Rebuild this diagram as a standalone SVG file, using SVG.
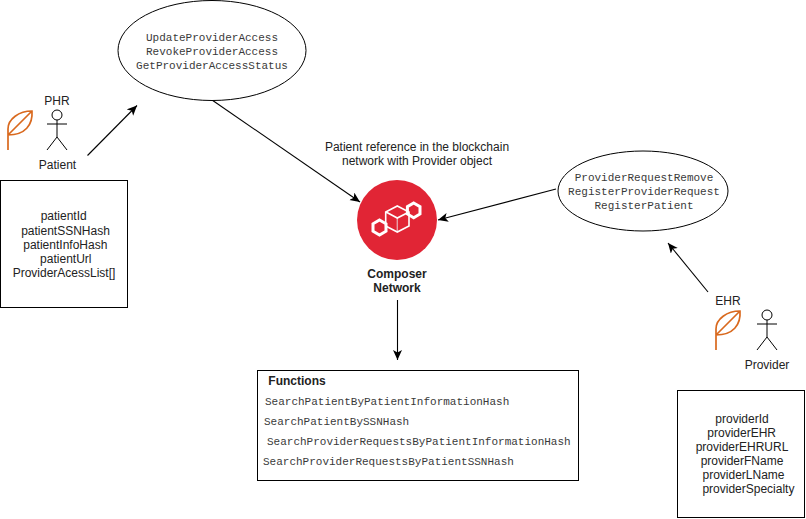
<svg xmlns="http://www.w3.org/2000/svg" width="806" height="519" viewBox="0 0 806 519">
<style>
.s{font-family:"Liberation Sans",Arial,sans-serif;font-size:12px;fill:#222;text-anchor:middle}
.b{font-weight:bold}
.m{font-family:"Liberation Mono","DejaVu Sans Mono",monospace;font-size:11px;fill:#3a3a3a}
.c{text-anchor:middle}
.box{fill:#fff;stroke:#000;stroke-width:1}
.line{fill:none;stroke:#000;stroke-width:1.1}
.actor{fill:none;stroke:#000;stroke-width:1}
.leaf{fill:none;stroke:#d9691e;stroke-width:1.7}
.hex{fill:none;stroke:#fff;stroke-width:3}
</style>
<defs>
<marker id="a" markerUnits="userSpaceOnUse" markerWidth="11" markerHeight="10" refX="10" refY="4.5" orient="auto"><path d="M0 0L10 4.500L0 9L2.500 4.500Z" fill="#000"/></marker>
<g id="leaf"><path class="leaf" d="M0 39V18C0 8 11 0 24 0C25 14 17 24 0 24M0 24L24 0"/></g>
<g id="act"><circle class="actor" cx="0" cy="5" r="5"/><path class="actor" d="M0 10V27M-10 14H10M0 27L-10 40M0 27L10 40"/></g>
</defs>
<rect width="806" height="519" fill="#fff"/>
<g id="connectors">
<path class="line" marker-end="url(#a)" d="M87.500 155.500L137 105.500"/>
<path class="line" marker-end="url(#a)" d="M212 100L360 202"/>
<path class="line" marker-end="url(#a)" d="M556 189L438 220"/>
<path class="line" marker-end="url(#a)" d="M708 292L668 243"/>
<path class="line" marker-end="url(#a)" d="M397.500 300V360"/>
</g>
<g id="access"><ellipse cx="212" cy="50.500" rx="94" ry="50" class="box"/>
<text class="m c" x="212" y="41">UpdateProviderAccess</text>
<text class="m c" x="212" y="55">RevokeProviderAccess</text>
<text class="m c" x="212" y="69">GetProviderAccessStatus</text></g>
<g id="patient">
<use href="#leaf" x="8" y="111"/>
<use href="#act" x="57" y="110"/>
<text class="s" x="57" y="105">PHR</text>
<text class="s" x="57.500" y="169">Patient</text>
</g>
<g id="patientBox"><rect class="box" x="0.500" y="180.500" width="127" height="127"/>
<text class="s" x="63.700" y="220">patientId</text>
<text class="s" x="65.500" y="235">patientSSNHash</text>
<text class="s" x="65.300" y="249">patientInfoHash</text>
<text class="s" x="65.800" y="263">patientUrl</text>
<text class="s" x="64" y="277">ProviderAcessList[]</text></g>
<g id="note"><text class="s" x="417" y="151">Patient reference in the blockchain</text>
<text class="s" x="417" y="165">network with Provider object</text></g>
<g id="composer"><circle cx="397" cy="220" r="40" fill="#e12535"/>
<path d="M397.300 218V231" stroke="#e8a0a8" stroke-width="1.4"/>
<path d="M397.300 206L409 212V226L397.300 232L385.700 226V212ZM386 212L397.300 218L409 212" fill="none" stroke="#fff" stroke-width="1.6"/>
<path class="hex" d="M379.500 220L386 223.800V231.200L379.500 235L373 231.200V223.800Z"/>
<path class="hex" d="M413.700 203L420 206.700V214L413.700 217.700L407.400 214V206.700Z"/>
<text class="s b" x="397" y="278">Composer</text>
<text class="s b" x="397" y="292">Network</text></g>
<g id="requests"><ellipse cx="643" cy="191" rx="85" ry="40" class="box"/>
<text class="m c" x="644" y="181">ProviderRequestRemove</text>
<text class="m c" x="644" y="195">RegisterProviderRequest</text>
<text class="m c" x="644" y="209">RegisterPatient</text></g>
<g id="provider">
<use href="#leaf" x="716" y="311"/>
<use href="#act" x="767" y="310"/>
<text class="s" x="728" y="305">EHR</text>
<text class="s" x="767" y="369">Provider</text>
</g>
<g id="providerBox"><rect class="box" x="677.500" y="390.500" width="127" height="127"/>
<text class="s" x="742" y="423">providerId</text>
<text class="s" x="741.700" y="437">providerEHR</text>
<text class="s" x="742" y="451">providerEHRURL</text>
<text class="s" x="742" y="465">providerFName</text>
<text class="s" x="743.500" y="479">providerLName</text>
<text class="s" x="748.400" y="493">providerSpecialty</text></g>
<g id="functions"><rect class="box" x="257.500" y="370.500" width="321" height="110"/>
<text class="s b" x="297" y="385">Functions</text>
<text class="m" x="265" y="405">SearchPatientByPatientInformationHash</text>
<text class="m" x="264" y="425">SearchPatientBySSNHash</text>
<text class="m" x="267" y="445">SearchProviderRequestsByPatientInformationHash</text>
<text class="m" x="263" y="465">SearchProviderRequestsByPatientSSNHash</text></g>
</svg>
